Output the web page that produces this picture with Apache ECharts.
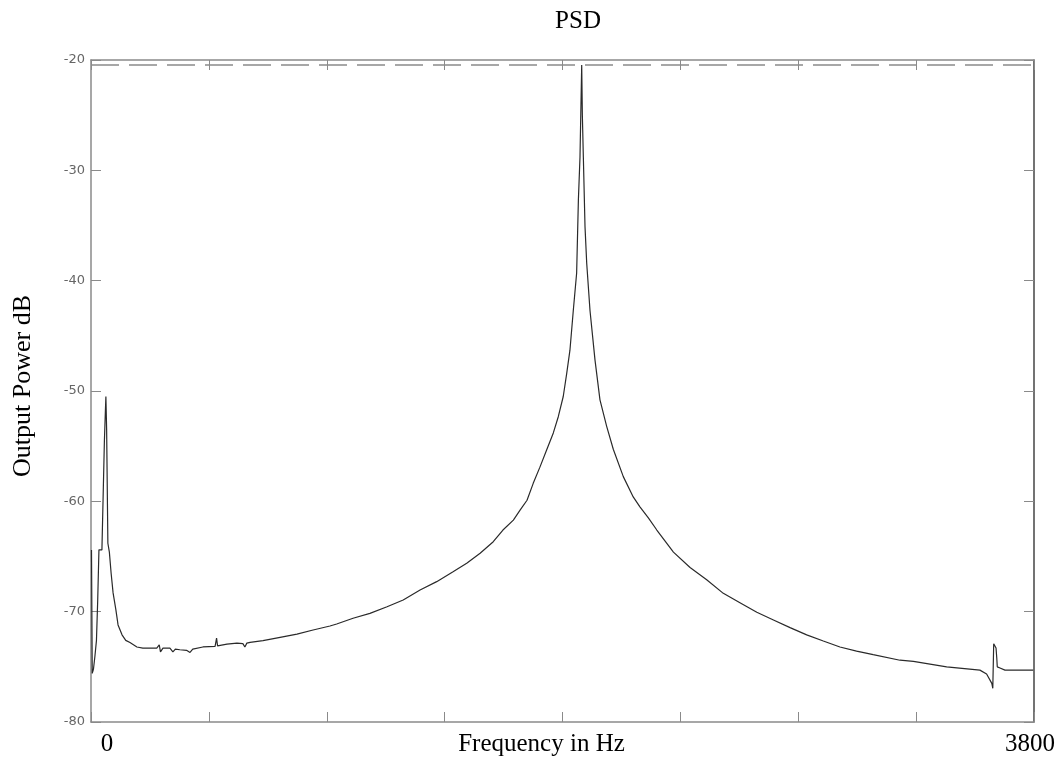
<!DOCTYPE html>
<html>
<head>
<meta charset="utf-8">
<title>PSD</title>
<script src="https://cdn.jsdelivr.net/npm/echarts/dist/echarts.min.js"></script>
<style>
    html, body { margin: 0; padding: 0; background: #fff; }
    #container { width: 1062px; height: 773px; }
</style>
</head>
<body>
<div id="container"></div>
<script>
    // 频率 (Hz)
    let freqHz = [
        2, 5, 10, 16, 22, 27, 32, 44, 54, 58, 60, 63, 68, 74, 81, 89, 100, 109, 125, 140,
        157, 185, 209, 265, 275, 280, 290, 318, 330, 340, 358, 385, 399, 410, 451, 500, 506, 510,
        548, 588, 612, 620, 628, 641, 693, 762, 830, 895, 963, 990, 1056, 1124, 1193, 1258,
        1326, 1393, 1459, 1514, 1568, 1621, 1660, 1702, 1729, 1757, 1782, 1809, 1836, 1863,
        1883, 1903, 1917, 1930, 1943.5, 1957, 1964, 1970.5, 1977.4,
        1980, 1984, 1990.7, 1997.5, 2010.8, 2031, 2051, 2078, 2105, 2145, 2185, 2212, 2246,
        2280, 2347, 2414, 2481, 2548, 2615, 2683, 2750, 2817, 2884, 2951, 3018, 3085, 3152,
        3260, 3314, 3448, 3582, 3609, 3630, 3634, 3637.6, 3647, 3650, 3652, 3663, 3683, 3797
    ];
    // 输出功率 (dB)
    let powerDb = [
        -64.4, -75.6, -75.2, -74.0, -72.6, -69.0, -64.4, -64.4, -54.5, -51.8, -50.5, -53.5, -63.8, -64.6, -66.5, -68.3, -69.8, -71.2, -72.1, -72.6,
        -72.8, -73.2, -73.3, -73.3, -73.0, -73.65, -73.3, -73.3, -73.65, -73.4, -73.45, -73.5, -73.7, -73.4, -73.2, -73.15, -72.4, -73.1,
        -72.95, -72.85, -72.9, -73.2, -72.85, -72.78, -72.63, -72.33, -72.03, -71.66, -71.3, -71.12, -70.6, -70.15, -69.55, -68.94,
        -68.04, -67.28, -66.38, -65.62, -64.7, -63.66, -62.6, -61.7, -60.8, -59.9, -58.37, -56.9, -55.35, -53.8,
        -52.33, -50.5, -48.4, -46.3, -42.7, -39.3, -32.7, -28.8, -20.45,
        -25.0, -28.8, -35.1, -38.4, -42.7, -47.2, -50.8, -53.2, -55.3, -57.76, -59.6, -60.5, -61.5,
        -62.6, -64.6, -66.0, -67.1, -68.34, -69.2, -70.06, -70.75, -71.45, -72.1, -72.66, -73.2, -73.57, -73.9,
        -74.4, -74.5, -75.0, -75.3, -75.65, -76.5, -76.95, -72.9, -73.3, -74.2, -75.0, -75.1, -75.3, -75.3
    ];
    // 坐标轴刻度
    let xTicks = [0, 3800];
    let yTicks = [-80, -20];

    let serif = '"Liberation Serif", "Times New Roman", serif';
    let frameColor = '#8a8a8a';

    let myChart = echarts.init(document.getElementById('container'));
    let seriesData = freqHz.map(function (f, i) {
        return [f, powerDb[i]];
    });

    let option = {
        animation: false,
        backgroundColor: '#fff',
        title: {
            text: 'PSD',
            left: 578,
            top: 9,
            textAlign: 'center',
            padding: 0,
            textStyle: { fontFamily: serif, fontSize: 25, fontWeight: 'normal', color: '#000' }
        },
        grid: { left: 91, right: 28, top: 60, bottom: 51, outerBoundsMode: 'none', containLabel: false },
        xAxis: [{
            type: 'value',
            min: xTicks[0],
            max: xTicks[1],
            interval: 475,
            position: 'bottom',
            name: 'Frequency in Hz',
            nameLocation: 'middle',
            nameGap: 10,
            nameMoveOverlap: false,
            nameTextStyle: { fontFamily: serif, fontSize: 25, color: '#000', verticalAlign: 'top', padding: [0, 42, 0, 0] },
            axisLine: { onZero: false, lineStyle: { color: frameColor, width: 1.5 } },
            axisTick: { inside: true, length: 10, lineStyle: { color: frameColor } },
            splitLine: { show: false },
            axisLabel: {
                margin: 10,
                fontFamily: serif,
                fontSize: 25,
                color: '#000',
                formatter: function (v) {
                    if (v === xTicks[0]) return '{a|' + v + '}';
                    if (v === xTicks[1]) return '{b|' + v + '}';
                    return '';
                },
                rich: {
                    a: { fontFamily: serif, fontSize: 25, color: '#000', padding: [0, 0, 0, 32] },
                    b: { fontFamily: serif, fontSize: 25, color: '#000', padding: [0, 8, 0, 0] }
                }
            }
        }, {
            type: 'value',
            min: xTicks[0],
            max: xTicks[1],
            interval: 475,
            position: 'top',
            axisLine: { onZero: false, lineStyle: { color: frameColor, width: 1.5 } },
            axisTick: { inside: true, length: 10, lineStyle: { color: frameColor } },
            axisLabel: { show: false },
            splitLine: { show: false }
        }],
        yAxis: [{
            type: 'value',
            min: yTicks[0],
            max: yTicks[1],
            interval: 10,
            position: 'left',
            name: 'Output Power dB',
            nameLocation: 'middle',
            nameGap: 55,
            nameMoveOverlap: false,
            nameTextStyle: { fontFamily: serif, fontSize: 26, color: '#000', padding: [0, 0, 0, 10] },
            axisLine: { show: true, onZero: false, lineStyle: { color: frameColor, width: 1.5 } },
            axisTick: { show: true, inside: true, length: 10, lineStyle: { color: frameColor } },
            splitLine: { show: false },
            axisLabel: { margin: 6, fontFamily: '"DejaVu Sans", sans-serif', fontSize: 13, color: '#666' }
        }, {
            type: 'value',
            min: yTicks[0],
            max: yTicks[1],
            interval: 10,
            position: 'right',
            axisLine: { show: true, onZero: false, lineStyle: { color: '#444', width: 1.5 } },
            axisTick: { show: true, inside: true, length: 10, lineStyle: { color: frameColor } },
            axisLabel: { show: false },
            splitLine: { show: false }
        }],
        series: [{
            name: 'PSD',
            type: 'line',
            xAxisIndex: 0,
            yAxisIndex: 0,
            data: seriesData,
            showSymbol: false,
            lineStyle: { color: '#2a2a2a', width: 1.2 },
            markLine: {
                silent: true,
                symbol: 'none',
                label: { show: false },
                lineStyle: { color: '#8a8a8a', width: 1.5, type: [28, 10] },
                data: [{ type: 'max', valueDim: 'y' }]
            }
        }]
    };
    myChart.setOption(option, true);
</script>
</body>
</html>
